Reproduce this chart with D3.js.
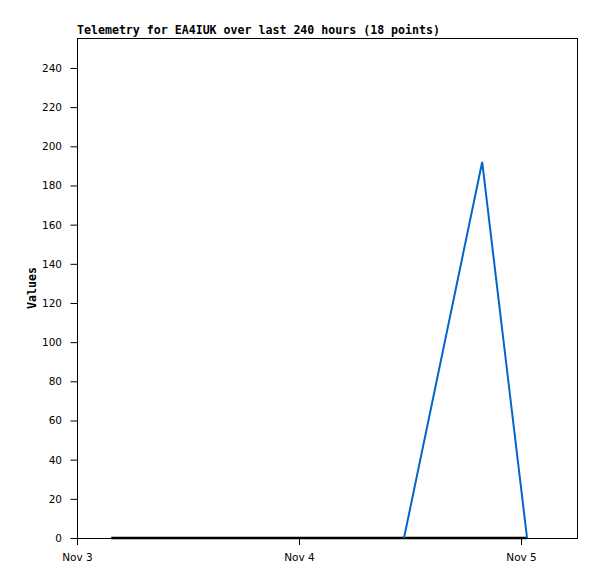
<!DOCTYPE html>
<meta charset="utf-8">
<style>
body { margin: 0; background: #fff; }
.axis text { font-family: "DejaVu Sans", sans-serif; font-size: 10.5px; fill: #000; }
.axis path { display: none; }
.axis line { stroke: #000; }
.title, .ylabel { font-family: "DejaVu Sans Mono", monospace; font-weight: bold; font-size: 11.6px; }
</style>
<svg width="597" height="579"></svg>
<script src="https://d3js.org/d3.v7.min.js"></script>
<script>

// hours after Nov 3 00:00
var blackHours = [3.7, 7.2, 10.5, 13.9, 17.4, 20.8, 24.3, 27.6, 31.0, 34.4, 37.8, 41.2, 44.6, 47.0, 48.65];
var blackValues = [0, 0, 0, 0, 0, 0, 0, 0, 0, 0, 0, 0, 0, 0, 0];
var blueHours = [35.35, 43.8, 48.65];
var blueValues = [0, 192, 0];
var yTicks = [0, 20, 40, 60, 80, 100, 120, 140, 160, 180, 200, 220, 240];
var xTickLabels = ["Nov 3", "Nov 4", "Nov 5"];

var margin = {top: 38, right: 20, bottom: 41, left: 77},
    width = 597 - margin.left - margin.right,
    height = 579 - margin.top - margin.bottom;

var t0 = new Date(2020, 10, 3, 0, 0);
function hrs(h) { return new Date(t0.getTime() + h * 3600e3); }

var svg = d3.select("svg")
  .append("g")
    .attr("transform", "translate(" + margin.left + "," + margin.top + ")");

var x = d3.scaleTime().domain([t0, hrs(54.05)]).range([0, width]);
var y = d3.scaleLinear().domain([0, 255.3]).range([height, 0]);

svg.append("rect")
    .attr("x", 0.5).attr("y", 0.5)
    .attr("width", width).attr("height", height)
    .attr("fill", "none").attr("stroke", "#000");

svg.append("g")
    .attr("class", "axis")
    .call(d3.axisLeft(y).tickValues(yTicks).tickSize(7).tickPadding(8))
    .selectAll("line").attr("transform", "translate(0.5,0)");

var dayTicks = xTickLabels.map(function(d, i) { return hrs(24 * i); });
svg.append("g")
    .attr("class", "axis")
    .attr("transform", "translate(0," + height + ")")
    .call(d3.axisBottom(x).tickValues(dayTicks).tickSize(7).tickPadding(9)
      .tickFormat(function(d, i) { return xTickLabels[i]; }));

var line = d3.line()
    .x(function(d) { return x(hrs(d[0])); })
    .y(function(d) { return y(d[1]); });

svg.append("path")
    .datum(d3.zip(blackHours, blackValues))
    .attr("fill", "none").attr("stroke", "#000").attr("stroke-width", 2.5)
    .attr("d", line);

svg.append("path")
    .datum(d3.zip(blueHours, blueValues))
    .attr("fill", "none").attr("stroke", "#0066cc").attr("stroke-width", 2)
    .attr("d", line);

d3.select("svg").append("text")
    .attr("class", "title")
    .attr("x", 77).attr("y", 34)
    .text("Telemetry for EA4IUK over last 240 hours (18 points)");

d3.select("svg").append("text")
    .attr("class", "ylabel")
    .attr("transform", "translate(36," + (margin.top + height / 2) + ") rotate(-90)")
    .attr("text-anchor", "middle")
    .text("Values");

</script>
